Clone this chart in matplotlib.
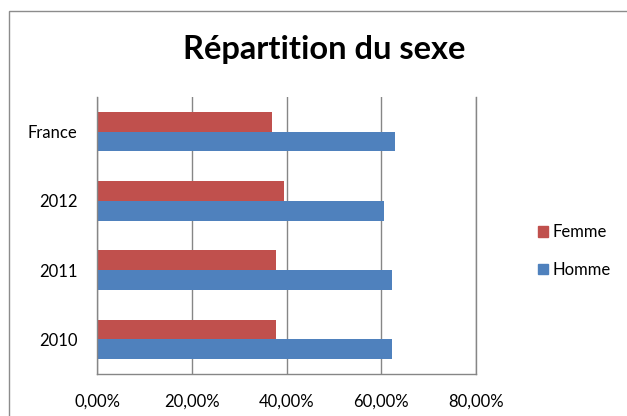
import numpy as np
import matplotlib
matplotlib.use('Agg')
import matplotlib.pyplot as plt
from matplotlib.patches import Rectangle, Patch
from matplotlib.ticker import FuncFormatter, MultipleLocator

plt.rcParams['font.family'] = ['Lato', 'DejaVu Sans']

# data (percent)
categories = ['2010', '2011', '2012', 'France']
femme = [37.7, 37.7, 39.5, 37.0]
homme = [62.3, 62.3, 60.5, 63.0]

red = '#C0504D'
blue = '#4F81BD'
grid_col = '#868686'

fig = plt.figure(figsize=(6.27, 4.16), dpi=100)

# outer chart border (cut off on right and bottom like the screenshot)
fig.patches.append(Rectangle((9 / 627, -0.1), 1.2, 0.9736 + 0.1,
                             transform=fig.transFigure, fill=False,
                             edgecolor='#8C8C8C', linewidth=1.0))

ax = fig.add_axes([97 / 627, 42 / 416, 379 / 627, 277 / 416])

y = np.arange(len(categories))
h = 0.285
ax.barh(y + h / 2, femme, height=h, color=red, label='Femme')
ax.barh(y - h / 2, homme, height=h, color=blue, label='Homme')

ax.set_xlim(0, 80)
ax.set_ylim(-0.5, len(categories) - 0.5)
ax.xaxis.set_major_locator(MultipleLocator(20))
ax.xaxis.set_major_formatter(FuncFormatter(lambda v, p: f"{v:.2f}%".replace('.', ',')))
ax.set_yticks(y)
ax.set_yticklabels(categories)

ax.grid(axis='x', color=grid_col, linewidth=1.0)
ax.set_axisbelow(True)
ax.spines['top'].set_visible(False)
for s in ['left', 'bottom', 'right']:
    ax.spines[s].set_color(grid_col)
    ax.spines[s].set_linewidth(1.0)
ax.tick_params(axis='both', length=0, labelsize=12, colors='black')
ax.tick_params(axis='x', pad=14)
ax.tick_params(axis='y', pad=14)

fig.text(324 / 627, 1 - 50 / 416, 'Répartition du sexe', ha='center', va='center',
         fontsize=23.5, fontweight='bold')

handles = [Patch(color=red, label='Femme'), Patch(color=blue, label='Homme')]
fig.legend(handles=handles, loc='center left', bbox_to_anchor=(523 / 627, 1 - 251 / 416),
           frameon=False, fontsize=12, handlelength=0.6, handleheight=0.6,
           handletextpad=0.3, labelspacing=1.3)

fig.savefig('out.png', dpi=100)
